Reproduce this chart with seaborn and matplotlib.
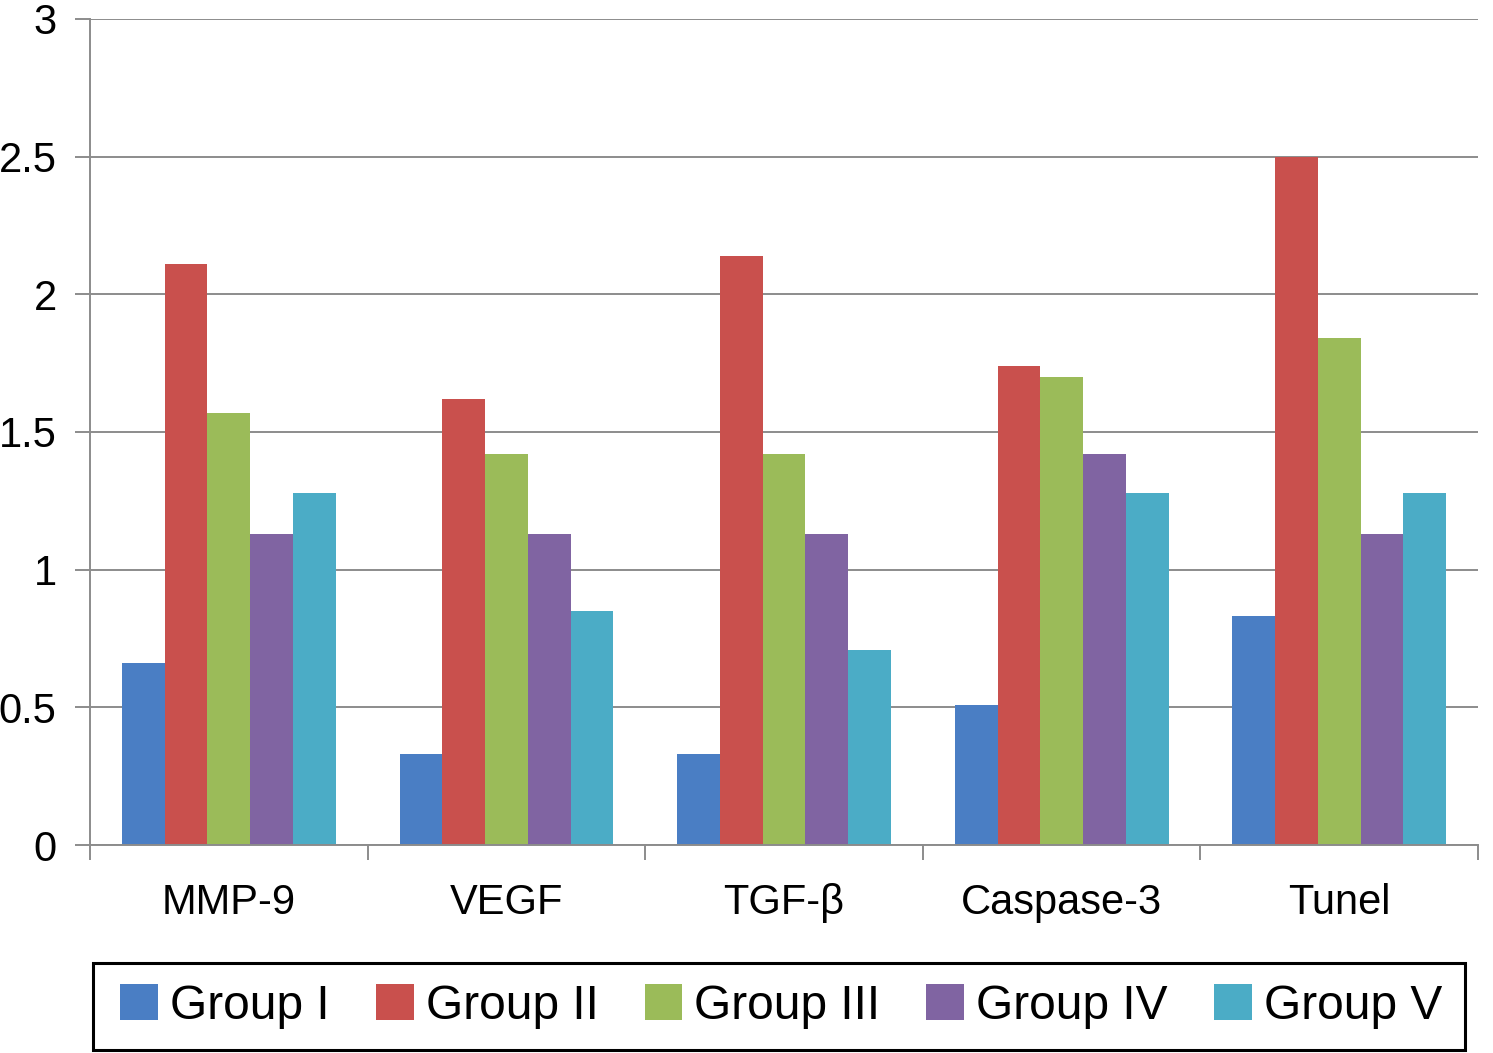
import pandas as pd
import seaborn as sns
import matplotlib.pyplot as plt
from matplotlib.patches import Rectangle

# Data
markers = ["MMP-9", "VEGF", "TGF-\u03b2", "Caspase-3", "Tunel"]
groups = ["Group I", "Group II", "Group III", "Group IV", "Group V"]
group_1 = [0.66, 0.33, 0.33, 0.51, 0.83]
group_2 = [2.11, 1.62, 2.14, 1.74, 2.50]
group_3 = [1.57, 1.42, 1.42, 1.70, 1.84]
group_4 = [1.13, 1.13, 1.13, 1.42, 1.13]
group_5 = [1.28, 0.85, 0.71, 1.28, 1.28]
colors = ["#4A7EC4", "#C9504D", "#9BBB59", "#8064A2", "#4BACC6"]

# Long-format table for seaborn
rows = []
for g, vals in zip(groups, [group_1, group_2, group_3, group_4, group_5]):
    for m, v in zip(markers, vals):
        rows.append({"marker": m, "group": g, "value": v})
df = pd.DataFrame(rows)

sns.set_style("white")
plt.rcParams["font.family"] = ["Liberation Sans", "DejaVu Sans"]
plt.rcParams["text.color"] = "black"

fig = plt.figure(figsize=(14.93, 10.53), dpi=100)
ax = fig.add_axes([0.0603, 0.1975, 0.9297, 0.7845])

sns.barplot(data=df, x="marker", y="value", hue="group", order=markers,
            hue_order=groups, palette=colors, width=0.77, saturation=1,
            linewidth=0, ax=ax, legend=True)

# Axes styling
ax.set_ylim(0, 3)
ax.set_xlim(-0.5, 4.5)
ax.set_yticks([0, 0.5, 1, 1.5, 2, 2.5, 3])
ax.set_yticklabels(["0", "0.5", "1", "1.5", "2", "2.5", "3"])
ax.yaxis.grid(True, color="#8c8c8c", linewidth=1.4)
ax.set_axisbelow(True)
ax.set_xlabel("")
ax.set_ylabel("")
for side in ["top", "right"]:
    ax.spines[side].set_visible(False)
for side in ["left", "bottom"]:
    ax.spines[side].set_color("#8c8c8c")
    ax.spines[side].set_linewidth(1.4)

ax.tick_params(axis="y", length=11, width=1.4, color="#8c8c8c",
               labelsize=30, pad=13, left=True, labelcolor="black")
ax.tick_params(axis="x", which="major", length=0, labelsize=30, pad=27,
               labelcolor="black")
ax.set_xticks([-0.5, 0.5, 1.5, 2.5, 3.5, 4.5], minor=True)
ax.tick_params(axis="x", which="minor", length=11, width=1.4,
               color="#8c8c8c", bottom=True)

# Legend below the chart, with its own box
handles, labels = ax.get_legend_handles_labels()
ax.get_legend().remove()
fig.legend(handles, labels, loc="center", ncol=5,
           bbox_to_anchor=(0.5232, 0.0442),
           fontsize=34.5, frameon=False,
           handlelength=0.79, handleheight=0.79, handletextpad=0.25,
           borderaxespad=0, borderpad=0.3, columnspacing=0.96)
fig.patches.append(Rectangle((0.0623, 0.0029), 0.919, 0.0826,
                             transform=fig.transFigure, fill=False,
                             edgecolor="black", linewidth=2.2))

fig.savefig("out.png", dpi=100)
